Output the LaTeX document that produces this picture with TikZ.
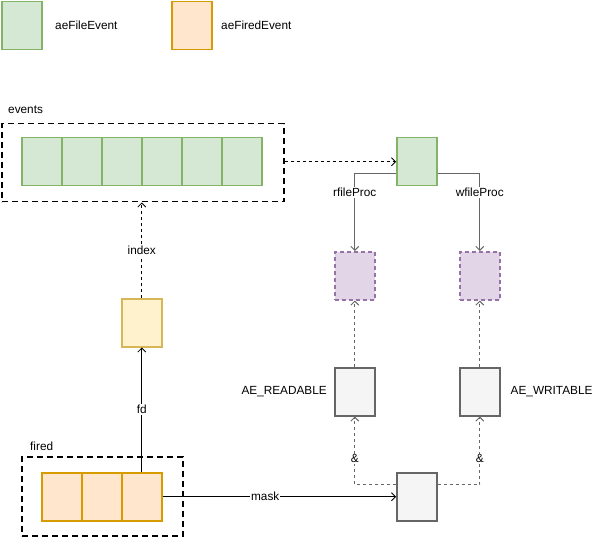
\documentclass[tikz,border=0pt]{standalone}
\usepackage{fontspec}
\setmainfont{Liberation Sans}
\usepackage{tikz}
\usetikzlibrary{arrows.meta}
\definecolor{fileFill}{HTML}{D5E8D4}
\definecolor{fileLine}{HTML}{82B366}
\definecolor{firedFill}{HTML}{FFE6CC}
\definecolor{firedLine}{HTML}{D79B00}
\definecolor{idxFill}{HTML}{FFF2CC}
\definecolor{idxLine}{HTML}{D6B656}
\definecolor{procFill}{HTML}{E1D5E7}
\definecolor{procLine}{HTML}{9673A6}
\definecolor{maskFill}{HTML}{F5F5F5}
\definecolor{maskLine}{HTML}{666666}

\tikzset{
  cellbox/.style  = {draw, line width=1.5pt, minimum width=40pt, minimum height=48pt,
                     inner sep=0pt, anchor=north west},
  filecell/.style = {cellbox, draw=fileLine, fill=fileFill},
  firedcell/.style= {cellbox, draw=firedLine, fill=firedFill},
  idxcell/.style  = {cellbox, draw=idxLine, fill=idxFill},
  proccell/.style = {cellbox, draw=procLine, fill=procFill, dash pattern=on 4pt off 3pt},
  maskcell/.style = {cellbox, draw=maskLine, fill=maskFill},
  groupbox/.style = {draw, line width=1.5pt, dash pattern=on 6pt off 4pt,
                     inner sep=0pt, anchor=north west},
  lbl/.style      = {fill=white, inner sep=1pt},
  solidarrow/.style = {->, line width=0.8pt},
  dasharrow/.style  = {->, line width=0.8pt, dash pattern=on 3pt off 3pt},
  grayarrow/.style  = {->, line width=1pt, draw=maskLine},
  graydash/.style   = {->, line width=1pt, draw=maskLine, dash pattern=on 3pt off 3pt},
}

\begin{document}
\begin{tikzpicture}[
  x=1pt, y=-1pt,
  >={Straight Barb[length=4pt, width=8pt]},
  every node/.style={font=\fontsize{11.8}{14}\selectfont}
]
  \useasboundingbox (0,0) rectangle (599,537);

  % legend
  \node[filecell]  (legfile)  at (1,1) {};
  \node[anchor=west, inner sep=0pt] (legfiletxt) at (55,25) {aeFileEvent};
  \node[firedcell] (legfired) at (171,1) {};
  \node[anchor=west, inner sep=0pt] (legfiredtxt) at (221,25) {aeFiredEvent};

  % events array
  \node[groupbox, minimum width=282pt, minimum height=78pt] (events) at (1,123) {};
  \node[anchor=west, inner sep=0pt] (eventstxt) at (8,110) {events};
  \foreach \i in {0,...,5}
    \node[filecell] (ev\i) at (21+40*\i,137) {};

  % single file event and its procs
  \node[filecell]  (fe) at (396,137) {};
  \node[proccell]  (rd) at (334,251) {};
  \node[proccell]  (wr) at (459,251) {};
  \node[maskcell]  (ar) at (334,367) {};
  \node[maskcell]  (aw) at (459,367) {};
  \node[anchor=east, inner sep=0pt] (artxt) at ([xshift=-7pt]ar.west) {AE\_READABLE};
  \node[anchor=west, inner sep=0pt] (awtxt) at ([xshift=10pt]aw.east) {AE\_WRITABLE};
  \node[maskcell]  (mk) at (396,472) {};

  % fired array
  \node[groupbox, minimum width=161pt, minimum height=79pt] (fired) at (21,456) {};
  \node[anchor=west, inner sep=0pt] (firedtxt) at (30,446) {fired};
  \foreach \i in {0,1,2}
    \node[firedcell] (fc\i) at (41+40*\i,472) {};
  \node[idxcell]   (idx) at (121,298) {};

  % connectors
  \draw[dasharrow] (events.east |- fe.west) -- (fe.west);
  \draw[grayarrow] ([yshift=-12pt]fe.west) -| node[lbl, pos=0.62] {rfileProc} (rd.north);
  \draw[grayarrow] ([yshift=-12pt]fe.east) -| node[lbl, pos=0.62] {wfileProc} (wr.north);
  \draw[graydash]  (ar.north) -- (rd.south);
  \draw[graydash]  (aw.north) -- (wr.south);
  \draw[graydash]  ([yshift=12pt]mk.west) -| node[lbl, pos=0.69] {\&} (ar.south);
  \draw[graydash]  ([yshift=12pt]mk.east) -| node[lbl, pos=0.69] {\&} (aw.south);
  \draw[solidarrow] (fc2.east) -- node[lbl, pos=0.44] {mask} (fc2.east -| mk.west);
  \draw[solidarrow] (fc2.north) -- node[lbl] {fd} (idx.south);
  \draw[dasharrow]  (idx.north) -- node[lbl] {index} (idx.north |- events.south);
\end{tikzpicture}
\end{document}
